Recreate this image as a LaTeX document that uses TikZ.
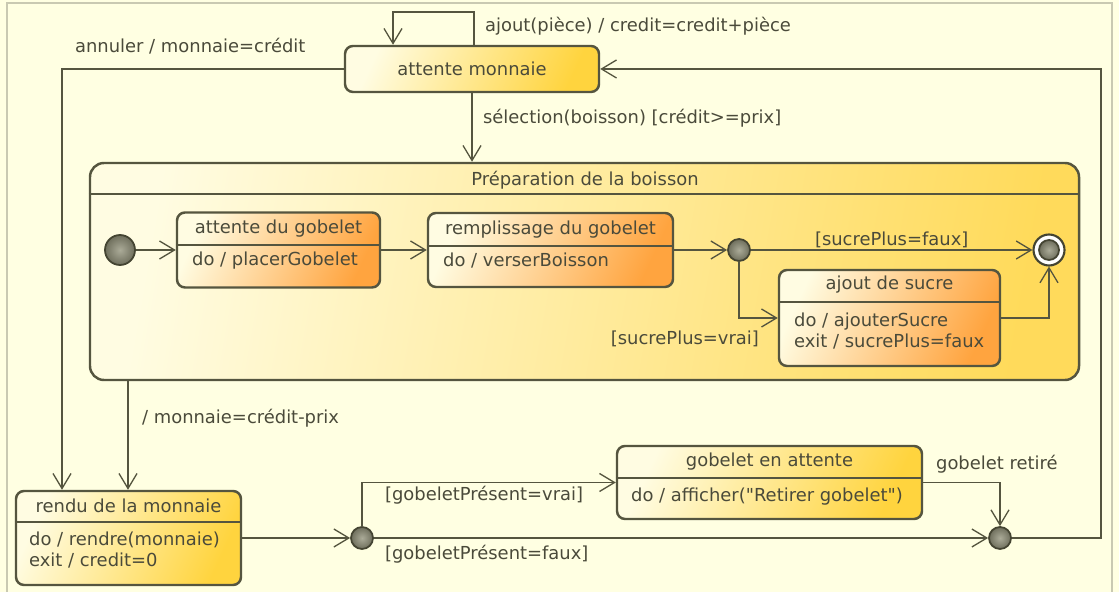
\documentclass[tikz,border=0pt]{standalone}
\usepackage{fontspec}
\setmainfont{DejaVu Sans}
\usetikzlibrary{arrows.meta}
\definecolor{fond}{HTML}{FFFFE2}
\definecolor{cadre}{HTML}{C9C9B2}
\definecolor{trait}{HTML}{55553F}
\definecolor{texte}{HTML}{4A4A3A}
\definecolor{clair}{HTML}{FFFCE2}
\definecolor{dore}{HTML}{FFD43E}
\definecolor{orangee}{HTML}{FFA43F}
\definecolor{pseudo}{HTML}{6E6E5C}
\definecolor{reflet}{HTML}{ABAB98}
\begin{document}
\begin{tikzpicture}[font=\fontsize{10.2}{12}\selectfont,
  etat/.style={draw=trait, line width=1.4pt, rounded corners=0.16cm, text=texte,
    left color=clair, right color=dore, shading angle=65, inner sep=0pt},
  interne/.style={etat, right color=orangee, shading angle=65},
  composite/.style={draw=trait, line width=1.4pt, rounded corners=0.28cm,
    left color=clair, right color=dore!85!white, shading angle=80, inner sep=0pt},
  separ/.style={draw=trait, line width=0.9pt},
  titre/.style={text=texte, inner sep=1pt},
  corps/.style={text=texte, anchor=west, align=left, inner sep=0pt},
  garde/.style={text=texte, inner sep=1pt},
  trans/.style={draw=trait, line width=0.75pt, -{Straight Barb[length=3mm,width=3.6mm]}},
  point/.style={circle, draw=trait!80!black, line width=1pt, inner color=reflet,
    outer color=pseudo, minimum size=0.44cm, inner sep=0pt}]
  \useasboundingbox[fill=fond] (0,0) rectangle (22.38,11.84);
  \draw[cadre, line width=0.6pt] (0.14,-0.1) -- (0.14,11.78) -- (22.24,11.78) -- (22.24,-0.1);

  % etat composite
  \node[composite, minimum width=19.78cm, minimum height=4.34cm] (prep) at (11.69,6.41) {};
  \draw[separ] ([yshift=-0.64cm]prep.north west) -- ([yshift=-0.64cm]prep.north east);
  \node[titre] (prep-t) at (11.70,8.24) {Préparation de la boisson};

  % attente monnaie
  \node[etat, minimum width=5.08cm, minimum height=0.92cm] (am) at (9.44,10.46) {attente monnaie};
  \coordinate (boucle-d) at (9.48,11.60);
  \coordinate (boucle-g) at (7.86,11.60);
  \draw[trans] (am.north -| boucle-d) -- (boucle-d) -- (boucle-g) -- (am.north -| boucle-g);
  \node[garde, anchor=west] (ajout) at (9.66,11.32) {ajout(pièce) / credit=credit+pièce};
  \draw[trans] (am.south) -- (am.south |- prep.north);
  \node[garde, anchor=west] (select) at (9.62,9.48) {sélection(boisson) [crédit>=prix]};

  % sous-etats
  \node[point, minimum size=0.60cm] (debut) at (2.40,6.84) {};
  \node[interne, minimum width=4.06cm, minimum height=1.50cm] (ag) at (5.57,6.84) {};
  \draw[separ] ([yshift=-0.68cm]ag.north west) -- ([yshift=-0.68cm]ag.north east);
  \node[titre] (ag-t) at ([yshift=-0.35cm]ag.north) {attente du gobelet};
  \node[corps] (ag-c) at ([xshift=0.32cm,yshift=-0.22cm]ag.west) {do / placerGobelet};

  \node[interne, minimum width=4.90cm, minimum height=1.48cm] (rg) at (11.01,6.84) {};
  \draw[separ] ([yshift=-0.68cm]rg.north west) -- ([yshift=-0.68cm]rg.north east);
  \node[titre] (rg-t) at ([yshift=-0.35cm]rg.north) {remplissage du gobelet};
  \node[corps] (rg-c) at ([xshift=0.32cm,yshift=-0.22cm]rg.west) {do / verserBoisson};

  \node[point] (j1) at (14.78,6.84) {};
  \node[circle, draw=trait!80!black, line width=1.2pt, fill=white, minimum size=0.62cm,
    inner sep=0pt] (fin) at (20.98,6.84) {};
  \node[point, minimum size=0.40cm] (fin-c) at (fin) {};

  \node[interne, minimum width=4.42cm, minimum height=1.92cm] (as) at (17.79,5.48) {};
  \draw[separ] ([yshift=-0.66cm]as.north west) -- ([yshift=-0.66cm]as.north east);
  \node[titre] (as-t) at ([yshift=-0.32cm]as.north) {ajout de sucre};
  \node[corps] (as-c) at ([xshift=0.32cm,yshift=-0.26cm]as.west) {do / ajouterSucre\\exit / sucrePlus=faux};

  \draw[trans] (debut.east) -- (ag.west);
  \draw[trans] (ag.east) -- (rg.west);
  \draw[trans] (rg.east) -- (j1.west);
  \draw[trans] (j1.east) -- (fin.west) node[garde, midway, above] (faux) {[sucrePlus=faux]};
  \draw[trans] (j1.south) |- (as.west);
  \node[garde, anchor=east] (vrai) at (15.22,5.06) {[sucrePlus=vrai]};
  \draw[trans] (as.east) -| (fin.south);

  % rendu de la monnaie
  \node[etat, minimum width=4.50cm, minimum height=1.88cm] (rendu) at (2.57,1.08) {};
  \draw[separ] ([yshift=-0.64cm]rendu.north west) -- ([yshift=-0.64cm]rendu.north east);
  \node[titre] (rendu-t) at ([yshift=-0.32cm]rendu.north) {rendu de la monnaie};
  \node[corps] (rendu-c) at ([xshift=0.28cm,yshift=-0.24cm]rendu.west) {do / rendre(monnaie)\\exit / credit=0};

  \coordinate (annul) at (1.24,10.46);
  \draw[trans] (am.west) -- (annul) -- (annul |- rendu.north);
  \node[garde, anchor=west] (annuler) at (1.46,10.92) {annuler / monnaie=crédit};
  \coordinate (sortie) at (2.56,0);
  \draw[trans] (prep.south -| sortie) -- (rendu.north -| sortie);
  \node[garde, anchor=west] (rendre) at (2.80,3.48) {/ monnaie=crédit-prix};

  % gobelet
  \node[point] (j2) at (7.24,1.08) {};
  \node[etat, minimum width=6.10cm, minimum height=1.46cm] (ga) at (15.39,2.19) {};
  \draw[separ] ([yshift=-0.66cm]ga.north west) -- ([yshift=-0.66cm]ga.north east);
  \node[titre] (ga-t) at ([yshift=-0.34cm]ga.north) {gobelet en attente};
  \node[corps] (ga-c) at ([xshift=0.30cm,yshift=-0.29cm]ga.west) {do / afficher(\textquotedbl Retirer gobelet\textquotedbl)};
  \node[point] (j3) at (20.00,1.08) {};

  \draw[trans] (rendu.east) -- (j2.west);
  \draw[trans] (j2.north) |- (ga.west);
  \node[garde, anchor=west] (present) at (7.66,1.94) {[gobeletPrésent=vrai]};
  \draw[trans] (j2.east) -- (j3.west);
  \node[garde, anchor=west] (absent) at (7.66,0.76) {[gobeletPrésent=faux]};
  \draw[trans] (ga.east) -| (j3.north);
  \node[garde, anchor=west] (retire) at (18.68,2.56) {gobelet retiré};
  \coordinate (retour) at (22.02,1.08);
  \draw[trans] (j3.east) -- (retour) |- (am.east);
\end{tikzpicture}
\end{document}
